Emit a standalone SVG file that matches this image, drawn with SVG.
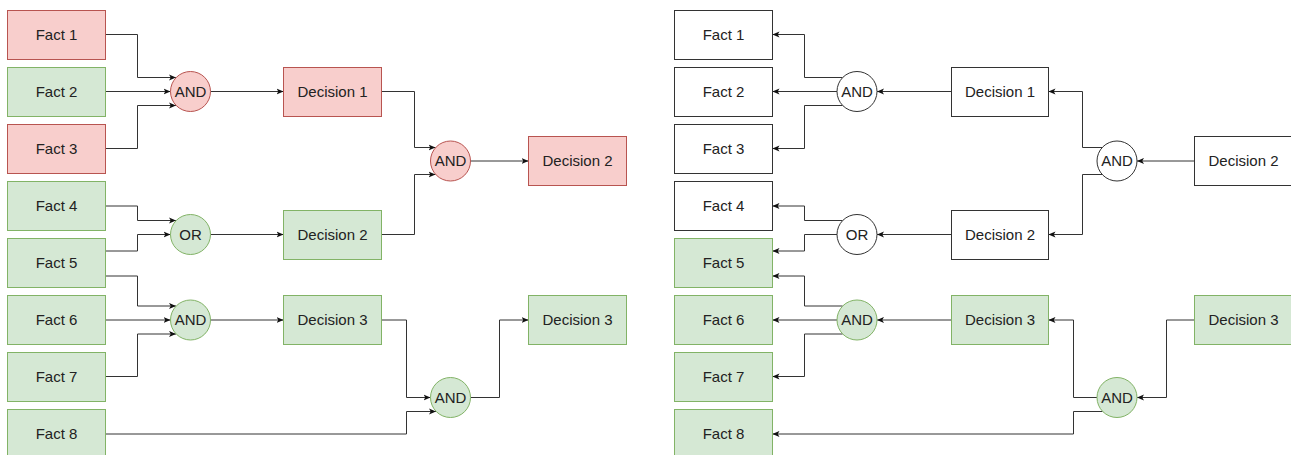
<svg xmlns="http://www.w3.org/2000/svg" width="1291" height="455" viewBox="0 0 1291 455">
  <style>
    text { font-family: "Liberation Sans", Arial, sans-serif; font-size: 15px; fill: #222; text-anchor: middle; dominant-baseline: central; }
    .red { fill: #f8cecc; stroke: #b85450; stroke-width: 1; }
    .green { fill: #d5e8d4; stroke: #82b366; stroke-width: 1; }
    .plain { fill: #ffffff; stroke: #333333; stroke-width: 1; }
    .edge { fill: none; stroke: #333333; stroke-width: 1; marker-end: url(#arrow); }
  </style>
  <defs>
    <marker id="arrow" viewBox="0 0 8 8" refX="8" refY="4" markerWidth="7" markerHeight="7" markerUnits="userSpaceOnUse" orient="auto">
      <path d="M0,0.5 L8,4 L0,7.5 L2,4 Z" fill="#111111"/>
    </marker>
  </defs>
  <rect width="1291" height="455" fill="#ffffff"/>

  <!-- Connectors -->
  <g id="connectors">
    <!-- forward chain (left) -->
    <path class="edge" d="M105.5,34.5 H137.5 V77.5 H176"/>
    <path class="edge" d="M105.5,91.5 H170.5"/>
    <path class="edge" d="M105.5,148.5 H137.5 V105.5 H176"/>
    <path class="edge" d="M210.5,91.5 H283.5"/>
    <path class="edge" d="M381.5,91.5 H414.5 V147.5 H435.5"/>
    <path class="edge" d="M381.5,234.5 H414.5 V174.5 H435.5"/>
    <path class="edge" d="M470.5,161 H528.5"/>
    <path class="edge" d="M105.5,206 H137.5 V220.5 H176"/>
    <path class="edge" d="M105.5,251 H137.5 V234.5 H170.5"/>
    <path class="edge" d="M210.5,234.5 H283.5"/>
    <path class="edge" d="M105.5,276 H137.5 V306 H176"/>
    <path class="edge" d="M105.5,320 H170.5"/>
    <path class="edge" d="M105.5,376.5 H137.5 V334 H176"/>
    <path class="edge" d="M210.5,320 H283.5"/>
    <path class="edge" d="M381.5,320 H406.5 V397.5 H430.5"/>
    <path class="edge" d="M105.5,434 H406.5 V411.5 H436"/>
    <path class="edge" d="M470.5,397.5 H499.5 V320 H528.5"/>

    <!-- backward chain (right) -->
    <path class="edge" d="M842.7,77.5 H804.5 V34.5 H772.5"/>
    <path class="edge" d="M837,91.5 H772.5"/>
    <path class="edge" d="M842.7,105.5 H804.5 V148.5 H772.5"/>
    <path class="edge" d="M951.5,91.5 H877"/>
    <path class="edge" d="M1102.5,147.5 H1082.5 V91.5 H1048.5"/>
    <path class="edge" d="M1102.5,174.5 H1082.5 V234.5 H1048.5"/>
    <path class="edge" d="M1194.5,161 H1137"/>
    <path class="edge" d="M842.7,220.5 H804.5 V206 H772.5"/>
    <path class="edge" d="M837,234.5 H804.5 V251 H772.5"/>
    <path class="edge" d="M951.5,234.5 H877"/>
    <path class="edge" d="M842.7,306 H804.5 V276 H772.5"/>
    <path class="edge" d="M837,320 H772.5"/>
    <path class="edge" d="M842.7,334 H804.5 V376.5 H772.5"/>
    <path class="edge" d="M951.5,320 H877"/>
    <path class="edge" d="M1097,397.5 H1073.5 V320 H1048.5"/>
    <path class="edge" d="M1102.7,411.5 H1073.5 V434 H772.5"/>
    <path class="edge" d="M1194.5,320 H1166.5 V397.5 H1137"/>
  </g>

  <!-- Left: facts -->
  <g id="l-fact1"><rect class="red" x="7.5" y="10.5" width="98" height="49"/><text x="56.5" y="34">Fact 1</text></g>
  <g id="l-fact2"><rect class="green" x="7.5" y="67.5" width="98" height="49"/><text x="56.5" y="91">Fact 2</text></g>
  <g id="l-fact3"><rect class="red" x="7.5" y="124.5" width="98" height="49"/><text x="56.5" y="148">Fact 3</text></g>
  <g id="l-fact4"><rect class="green" x="7.5" y="181.5" width="98" height="49"/><text x="56.5" y="205">Fact 4</text></g>
  <g id="l-fact5"><rect class="green" x="7.5" y="238.5" width="98" height="49"/><text x="56.5" y="262">Fact 5</text></g>
  <g id="l-fact6"><rect class="green" x="7.5" y="295.5" width="98" height="49"/><text x="56.5" y="319">Fact 6</text></g>
  <g id="l-fact7"><rect class="green" x="7.5" y="352.5" width="98" height="49"/><text x="56.5" y="376">Fact 7</text></g>
  <g id="l-fact8"><rect class="green" x="7.5" y="409.5" width="98" height="49"/><text x="56.5" y="433">Fact 8</text></g>

  <!-- Left: gates -->
  <g id="l-and1"><circle class="red" cx="190.5" cy="91.5" r="20"/><text x="190.5" y="91">AND</text></g>
  <g id="l-or1"><circle class="green" cx="190.5" cy="234.5" r="20"/><text x="190.5" y="234">OR</text></g>
  <g id="l-and3"><circle class="green" cx="190.5" cy="320" r="20"/><text x="190.5" y="319.5">AND</text></g>
  <g id="l-and2"><circle class="red" cx="450.5" cy="161" r="20"/><text x="450.5" y="160.5">AND</text></g>
  <g id="l-and4"><circle class="green" cx="450.5" cy="397.5" r="20"/><text x="450.5" y="397">AND</text></g>

  <!-- Left: decisions -->
  <g id="l-dec1"><rect class="red" x="283.5" y="67.5" width="98" height="49"/><text x="332.5" y="91">Decision 1</text></g>
  <g id="l-dec2"><rect class="green" x="283.5" y="210.5" width="98" height="49"/><text x="332.5" y="234">Decision 2</text></g>
  <g id="l-dec3"><rect class="green" x="283.5" y="295.5" width="98" height="49"/><text x="332.5" y="319">Decision 3</text></g>
  <g id="l-dec2-out"><rect class="red" x="528.5" y="136.5" width="98" height="49"/><text x="577.5" y="160">Decision 2</text></g>
  <g id="l-dec3-out"><rect class="green" x="528.5" y="295.5" width="98" height="49"/><text x="577.5" y="319">Decision 3</text></g>

  <!-- Right: facts -->
  <g id="r-fact1"><rect class="plain" x="674.5" y="10.5" width="98" height="49"/><text x="723.5" y="34">Fact 1</text></g>
  <g id="r-fact2"><rect class="plain" x="674.5" y="67.5" width="98" height="49"/><text x="723.5" y="91">Fact 2</text></g>
  <g id="r-fact3"><rect class="plain" x="674.5" y="124.5" width="98" height="49"/><text x="723.5" y="148">Fact 3</text></g>
  <g id="r-fact4"><rect class="plain" x="674.5" y="181.5" width="98" height="49"/><text x="723.5" y="205">Fact 4</text></g>
  <g id="r-fact5"><rect class="green" x="674.5" y="238.5" width="98" height="49"/><text x="723.5" y="262">Fact 5</text></g>
  <g id="r-fact6"><rect class="green" x="674.5" y="295.5" width="98" height="49"/><text x="723.5" y="319">Fact 6</text></g>
  <g id="r-fact7"><rect class="green" x="674.5" y="352.5" width="98" height="49"/><text x="723.5" y="376">Fact 7</text></g>
  <g id="r-fact8"><rect class="green" x="674.5" y="409.5" width="98" height="49"/><text x="723.5" y="433">Fact 8</text></g>

  <!-- Right: gates -->
  <g id="r-and1"><circle class="plain" cx="857" cy="91.5" r="20"/><text x="857" y="91">AND</text></g>
  <g id="r-or1"><circle class="plain" cx="857" cy="234.5" r="20"/><text x="857" y="234">OR</text></g>
  <g id="r-and3"><circle class="green" cx="857" cy="320" r="20"/><text x="857" y="319.5">AND</text></g>
  <g id="r-and2"><circle class="plain" cx="1117" cy="161" r="20"/><text x="1117" y="160.5">AND</text></g>
  <g id="r-and4"><circle class="green" cx="1117" cy="397.5" r="20"/><text x="1117" y="397">AND</text></g>

  <!-- Right: decisions -->
  <g id="r-dec1"><rect class="plain" x="951.5" y="67.5" width="97" height="49"/><text x="1000" y="91">Decision 1</text></g>
  <g id="r-dec2"><rect class="plain" x="951.5" y="210.5" width="97" height="49"/><text x="1000" y="234">Decision 2</text></g>
  <g id="r-dec3"><rect class="green" x="951.5" y="295.5" width="97" height="49"/><text x="1000" y="319">Decision 3</text></g>
  <g id="r-dec2-goal"><rect class="plain" x="1194.5" y="136.5" width="98" height="49"/><text x="1243.5" y="160">Decision 2</text></g>
  <g id="r-dec3-goal"><rect class="green" x="1194.5" y="295.5" width="98" height="49"/><text x="1243.5" y="319">Decision 3</text></g>
</svg>
